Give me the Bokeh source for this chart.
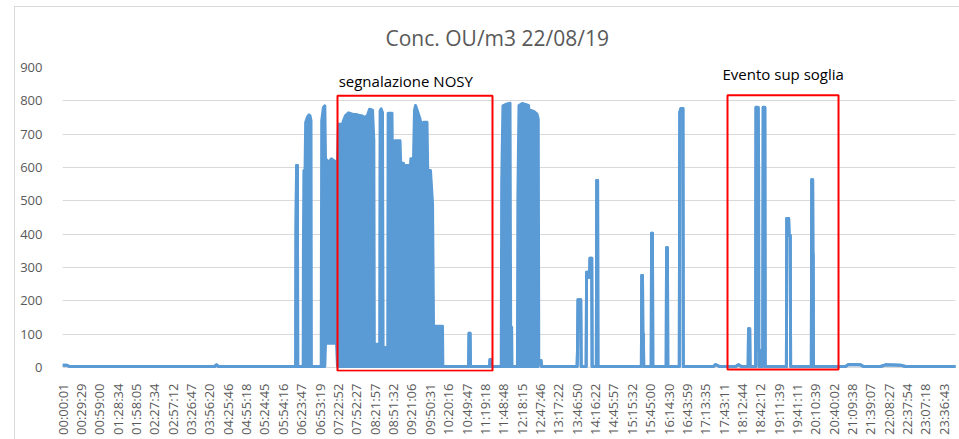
import math
from bokeh.plotting import figure
from bokeh.models import ColumnDataSource, FixedTicker, Range1d
from bokeh.core.properties import value
from bokeh.embed import file_html
from bokeh.resources import INLINE

TITLE = "Conc. OU/m3 22/08/19"

# x-axis category labels (every ~29.5 minutes)
tick_labels = [
    "00:00:01", "00:29:29", "00:59:00", "01:28:34", "01:58:05", "02:27:34", "02:57:12",
    "03:26:47", "03:56:20", "04:25:46", "04:55:18", "05:24:45", "05:54:16", "06:23:47",
    "06:53:19", "07:22:52", "07:52:27", "08:21:57", "08:51:32", "09:21:06", "09:50:31",
    "10:20:16", "10:49:47", "11:19:18", "11:48:48", "12:18:15", "12:47:46", "13:17:22",
    "13:46:50", "14:16:22", "14:45:57", "15:15:32", "15:45:00", "16:14:30", "16:43:59",
    "17:13:35", "17:43:11", "18:12:44", "18:42:12", "19:11:39", "19:41:11", "20:10:39",
    "20:40:02", "21:09:38", "21:39:07", "22:08:27", "22:37:54", "23:07:18", "23:36:43",
]
y_ticks = [0, 100, 200, 300, 400, 500, 600, 700, 800, 900]

# time stamps of the readings
times = [
    "00:00:01", "00:06:24", "00:11:18", "04:04:24", "04:07:36", "04:10:48",
    "06:15:00", "06:15:30", "06:16:24", "06:17:42", "06:18:12",
    "06:27:00", "06:27:24", "06:28:12", "06:30:00", "06:31:00", "06:34:00", "06:36:24",
    "06:38:00", "06:39:36", "06:40:12",
    "06:56:00", "06:56:48", "06:59:30", "07:01:48", "07:02:54", "07:07:42", "07:12:36",
    "07:17:24", "07:20:36", "07:22:12", "07:23:48", "07:30:12", "07:31:42", "07:35:06",
    "07:39:54", "07:46:18", "07:54:24", "07:56:48", "08:01:24", "08:05:36", "08:10:24",
    "08:13:42", "08:18:30", "08:20:36", "08:21:24", "08:30:00", "08:30:42", "08:32:18",
    "08:34:30", "08:35:30", "08:43:00", "08:43:36", "08:49:48", "08:51:18", "08:53:12",
    "08:54:36", "09:02:42", "09:03:48", "09:08:18", "09:09:54", "09:12:18", "09:17:54",
    "09:18:48", "09:20:06", "09:24:24", "09:26:00", "09:27:36", "09:30:24", "09:34:06",
    "09:36:54", "09:38:06", "09:39:42", "09:40:48", "09:46:06", "09:47:18", "09:51:42",
    "09:55:00", "09:56:36", "10:11:00", "10:11:36",
    "10:53:00", "10:53:42", "10:55:18", "10:56:00",
    "11:26:48", "11:27:24", "11:29:00", "11:29:36",
    "11:45:30", "11:46:12", "11:48:12", "11:53:54", "11:59:36", "12:00:36", "12:02:12",
    "12:02:48", "12:11:30", "12:12:12", "12:14:00", "12:19:12", "12:29:18", "12:31:42",
    "12:33:18", "12:37:54", "12:43:00", "12:45:00", "12:45:48", "12:49:30", "12:50:12",
    "13:47:30", "13:48:12", "13:48:54", "13:53:18", "13:54:00",
    "14:02:00", "14:02:42", "14:06:36", "14:07:24", "14:08:12", "14:11:00", "14:11:36",
    "14:18:24", "14:19:00", "14:20:24", "14:21:00",
    "15:30:48", "15:31:24", "15:32:36", "15:33:12", "15:34:00", "15:34:36",
    "15:46:36", "15:47:12", "15:48:36", "15:49:12",
    "16:10:42", "16:11:18", "16:12:42", "16:13:18",
    "16:31:48", "16:32:30", "16:34:24", "16:37:36", "16:38:12",
    "17:26:48", "17:30:00", "17:36:30", "18:02:12", "18:07:00", "18:11:48",
    "18:22:30", "18:23:06", "18:25:00", "18:25:36",
    "18:34:30", "18:35:06", "18:38:36", "18:39:18", "18:39:36", "18:46:00", "18:46:42",
    "18:49:18", "18:49:54",
    "19:24:00", "19:24:36", "19:27:36", "19:28:24", "19:30:12", "19:30:48",
    "20:04:06", "20:04:42", "20:06:12", "20:06:36", "20:07:00", "20:07:30",
    "20:59:00", "21:03:54", "21:23:12", "21:28:00", "21:55:18", "22:03:24", "22:27:30",
    "22:35:30", "23:59:59",
]

# highest reading in each time slot (OU/m3)
conc_max = [
    7, 7, 3, 3, 8, 3,
    3, 415, 606, 606, 3,
    3, 371, 591, 591, 735, 752, 758,
    755, 740, 3,
    3, 740, 780, 785, 626, 616, 626,
    619, 616, 616, 730, 730, 740, 756,
    764, 760, 758, 756, 755, 750, 756,
    775, 772, 681, 70, 70, 770, 776,
    765, 60, 60, 763, 763, 450, 450,
    680, 680, 613, 613, 596, 606, 606,
    586, 626, 626, 770, 786, 771, 750,
    731, 671, 700, 736, 736, 591, 591,
    491, 124, 124, 3,
    3, 103, 103, 3,
    3, 24, 24, 3,
    3, 551, 785, 790, 793, 121, 121,
    3, 3, 506, 786, 792, 786, 740,
    771, 768, 760, 745, 21, 21, 3,
    3, 61, 203, 203, 3,
    3, 286, 286, 270, 328, 328, 3,
    3, 561, 561, 3,
    3, 276, 276, 101, 101, 3,
    3, 403, 403, 3,
    3, 359, 359, 3,
    3, 765, 777, 777, 3,
    3, 9, 3, 3, 8, 3,
    3, 116, 116, 3,
    3, 781, 780, 596, 51, 51, 781,
    780, 3,
    3, 447, 447, 396, 396, 3,
    3, 563, 563, 341, 341, 3,
    3, 9, 8, 3, 3, 8, 7,
    3, 3,
]

# lowest reading in each time slot (OU/m3)
conc_min = [
    7, 7, 3, 3, 8, 3,
    3, 415, 606, 606, 3,
    3, 3, 3, 3, 3, 3, 3,
    3, 3, 3,
    3, 3, 3, 3, 73, 73, 73,
    73, 73, 3, 3, 3, 3, 3,
    3, 3, 3, 3, 3, 3, 3,
    3, 3, 3, 3, 3, 3, 3,
    3, 3, 3, 3, 3, 3, 3,
    3, 3, 3, 3, 3, 3, 3,
    3, 3, 3, 3, 3, 3, 3,
    3, 3, 3, 3, 3, 3, 3,
    3, 3, 3, 3,
    3, 103, 103, 3,
    3, 24, 24, 3,
    3, 3, 3, 3, 3, 3, 3,
    3, 3, 3, 3, 3, 3, 3,
    3, 3, 3, 3, 21, 21, 3,
    3, 61, 203, 203, 3,
    3, 286, 286, 270, 328, 328, 3,
    3, 561, 561, 3,
    3, 276, 276, 101, 101, 3,
    3, 403, 403, 3,
    3, 359, 359, 3,
    3, 765, 777, 777, 3,
    3, 9, 3, 3, 8, 3,
    3, 116, 116, 3,
    3, 781, 780, 596, 3, 3, 781,
    780, 3,
    3, 447, 447, 396, 396, 3,
    3, 563, 563, 341, 341, 3,
    3, 9, 8, 3, 3, 8, 7,
    3, 3,
]

# annotations (red frames and their captions)
box_labels = ["segnalazione NOSY", "Evento sup soglia"]
box_start = ["07:22:12", "17:49:18"]
box_end = ["11:31:24", "20:47:48"]
box_top = [815, 817]
box_bottom = [-10, -6]
label_time = ["07:24:00", "17:41:18"]
label_value = [860, 880]


def to_sec(s):
    h, m, sec = (int(v) for v in s.split(":"))
    return h * 3600 + m * 60 + sec


tick_secs = [to_sec(t) for t in tick_labels]

src = ColumnDataSource(dict(
    t=[to_sec(t) for t in times],
    hi=conc_max,
    lo=conc_min,
))
box_src = ColumnDataSource(dict(
    left=[to_sec(t) for t in box_start],
    right=[to_sec(t) for t in box_end],
    top=box_top,
    bottom=box_bottom,
))
lab_src = ColumnDataSource(dict(
    x=[to_sec(t) for t in label_time],
    y=label_value,
    text=box_labels,
))

BLUE = "#5B9BD5"
GREY = "#595959"

p = figure(
    width=959, height=439,
    output_backend="svg", toolbar_location=None,
    x_range=Range1d(0, 86154), y_range=Range1d(-12, 900),
    min_border_left=62, min_border_right=4, min_border_top=67, min_border_bottom=68,
)
p.outline_line_color = None
p.background_fill_color = "white"
p.border_fill_alpha = 0
# light grey chart-area frame (left and top edges)
p.styles = {
    "box-shadow": "inset 14px 6px 0 0 white, inset 15px 7px 0 0 #D9D9D9",
    "background-color": "white",
}

p.title.text = TITLE
p.title.text_font = "Open Sans"
p.title.text_font_size = "21px"
p.title.text_font_style = "normal"
p.title.text_color = GREY
p.title.align = "left"
p.title.offset = 323
p.title.standoff = 32

p.varea(x="t", y1="lo", y2="hi", source=src, fill_color=BLUE)
p.line(x="t", y="hi", source=src, line_color=BLUE, line_width=3, line_join="round")
p.line(x="t", y="lo", source=src, line_color=BLUE, line_width=3, line_join="round")

p.quad(left="left", right="right", top="top", bottom="bottom", source=box_src,
       fill_alpha=0, line_color="#FF0000", line_width=2)
p.text(x="x", y="y", text="text", source=lab_src, text_font=value("Open Sans"),
       text_font_size=value("15px"), text_align="left", text_baseline="alphabetic",
       text_color="black")

# axes
p.yaxis.ticker = FixedTicker(ticks=y_ticks)
p.ygrid.ticker = FixedTicker(ticks=y_ticks)
p.ygrid.grid_line_color = "#D9D9D9"
p.ygrid.grid_line_width = 1
p.xgrid.visible = False

p.xaxis.ticker = FixedTicker(ticks=tick_secs)
p.xaxis.major_label_overrides = {s: lab for s, lab in zip(tick_secs, tick_labels)}
p.xaxis.major_label_orientation = math.pi / 2
p.xaxis.major_label_standoff = 6

for ax in (p.xaxis[0], p.yaxis[0]):
    ax.axis_line_color = None
    ax.major_tick_line_color = None
    ax.minor_tick_line_color = None
    ax.major_label_text_color = GREY
    ax.major_label_text_font = "Open Sans"

p.xaxis.major_label_text_font_size = "13px"
p.yaxis.major_label_text_font_size = "13px"
p.yaxis.major_label_standoff = 14

open("out.html", "w").write(file_html(p, INLINE))
